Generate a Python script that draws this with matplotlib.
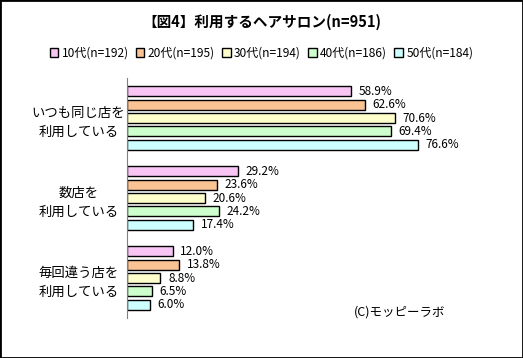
import numpy as np
import matplotlib.pyplot as plt
from matplotlib.patches import Rectangle

plt.rcParams['font.family'] = ['Noto Sans CJK JP', 'DejaVu Sans']

categories = ["いつも同じ店を\n利用している", "数店を\n利用している", "毎回違う店を\n利用している"]
series = ["10代(n=192)", "20代(n=195)", "30代(n=194)", "40代(n=186)", "50代(n=184)"]
v10 = [58.9, 29.2, 12.0]
v20 = [62.6, 23.6, 13.8]
v30 = [70.6, 20.6, 8.8]
v40 = [69.4, 24.2, 6.5]
v50 = [76.6, 17.4, 6.0]
values = [v10, v20, v30, v40, v50]
colors = ["#F8C4F4", "#F9C393", "#FFFFCC", "#CCFFCC", "#CCFFFF"]

fig = plt.figure(figsize=(5.23, 3.58), dpi=100)
ax = fig.add_axes([127/523, 40/358, 380/523, 240/358])

y = np.arange(len(categories))
slot = 0.1675
h = 0.125
for i, (vals, c, name) in enumerate(zip(values, colors, series)):
    pos = y + (i - 2) * slot
    ax.barh(pos, vals, height=h, color=c, edgecolor="black", linewidth=1, label=name)
    for p, v in zip(pos, vals):
        ax.text(v + 2, p, f"{v:.1f}%", va="center", ha="left", fontsize=8.5)

ax.set_xlim(0, 100)
ax.set_ylim(2.5, -0.5)
ax.set_yticks(y)
ax.set_yticklabels(categories, fontsize=9.6, ha="center", linespacing=1.5)
ax.tick_params(axis="y", length=0, pad=35)
ax.set_xticks([])
for s in ["top", "right", "bottom"]:
    ax.spines[s].set_visible(False)
ax.spines["left"].set_color("#808080")

fig.text(0.5, 1 - 22/358, "【図4】利用するヘアサロン(n=951)", ha="center", va="center",
         fontsize=10.5, fontweight="bold")

fig.legend(loc="center", bbox_to_anchor=(0.5, 1 - 53/358), ncol=5, frameon=False,
           fontsize=8.6, handlelength=0.7, handleheight=0.7, handletextpad=0.3,
           columnspacing=0.6, borderaxespad=0)

fig.text(400/523, 1 - 312/358, "(C)モッピーラボ", ha="center", va="center", fontsize=9)

fig.patches.append(Rectangle((0, 0), 1, 1, transform=fig.transFigure, fill=False,
                             edgecolor="black", linewidth=2))

fig.savefig("out.png", dpi=100)
